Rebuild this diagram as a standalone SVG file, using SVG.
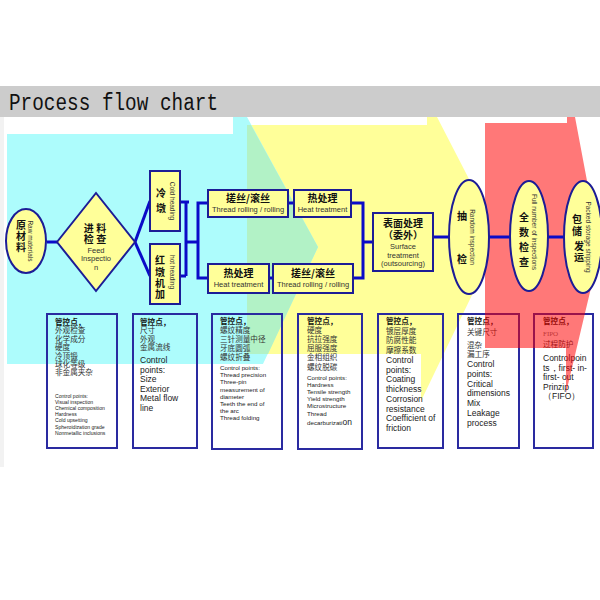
<svg xmlns="http://www.w3.org/2000/svg" width="600" height="600" viewBox="0 0 600 600">
<style>
.nd{fill:#ffff99;stroke:#1c1c96;stroke-width:2}
.zh{font-family:"Noto Sans CJK SC",sans-serif;font-weight:bold;font-size:10px;fill:#111;text-anchor:middle}
.ne{font-family:"Liberation Sans",Arial,sans-serif;font-size:7.5px;fill:#333;text-anchor:middle}
.rot{font-family:"Liberation Sans",Arial,sans-serif;font-size:6.5px;fill:#333;text-anchor:middle}
.ln{stroke:#0a0ac8;stroke-width:3;fill:none}
.bx{fill:none;stroke:#2a2aa0;stroke-width:2}
.c8{font-family:"Noto Sans CJK SC",sans-serif;font-size:7.6px;fill:#333}
.hd{font-weight:bold;fill:#111}
.e8{font-family:"Liberation Sans",Arial,sans-serif;font-size:8.5px;fill:#222}
.e6{font-family:"Liberation Sans",Arial,sans-serif;font-size:6.2px;fill:#222}
.e5{font-family:"Liberation Sans",Arial,sans-serif;font-size:5.1px;fill:#222}
</style>
<rect width="600" height="600" fill="#ffffff"/>
<g id="background">
<rect x="0" y="86" width="600" height="31" fill="#cccccc"/>
<rect x="0" y="117" width="4" height="350" fill="#f2f2f2"/>
<polygon points="247,125 427,125 427,117 437,117 485,210 485,268 421,401 421,354 247,354" fill="#ffff99"/>
<polygon points="7,134 233,134 233,117 247,117 318,247 263,364 7,364" fill="#adfcfc"/>
<polygon points="247,125 251,125 318,247 268,354 247,354" fill="#b2f2c6"/>
<text x="9" y="110" font-family="Liberation Mono, monospace" font-size="23" textLength="209" lengthAdjust="spacingAndGlyphs" fill="#111">Process flow chart</text>
</g>
<g id="control-boxes">
<g id="box1">
<rect class="bx" x="47" y="314" width="70" height="134"/>
<text class="c8" x="55" y="325"><tspan class="hd">管控点，</tspan><tspan x="55" dy="8.4">外观检查</tspan><tspan x="55" dy="8.4">化学成分</tspan><tspan x="55" dy="8.4">硬度</tspan><tspan x="55" dy="8.4">冷顶锻</tspan><tspan x="55" dy="8.4">球化等级</tspan><tspan x="55" dy="8.4">非金属夹杂</tspan></text>
<text class="e5" x="55" y="398"><tspan>Control points:</tspan><tspan x="55" dy="6.1">Visual inspection</tspan><tspan x="55" dy="6.1">Chemical composition</tspan><tspan x="55" dy="6.1">Hardness</tspan><tspan x="55" dy="6.1">Cold upsetting</tspan><tspan x="55" dy="6.1">Spheroidization grade</tspan><tspan x="55" dy="6.1">Nonmetallic inclusions</tspan></text>
</g>
<g id="box2">
<rect class="bx" x="133" y="314" width="64" height="134"/>
<text class="c8" x="140" y="325"><tspan class="hd">管控点，</tspan><tspan x="140" dy="8.4">尺寸</tspan><tspan x="140" dy="8.4">外观</tspan><tspan x="140" dy="8.4">金属流线</tspan></text>
<text class="e8" x="140" y="363"><tspan>Control</tspan><tspan x="140" dy="9.6">points:</tspan><tspan x="140" dy="9.6">Size</tspan><tspan x="140" dy="9.6">Exterior</tspan><tspan x="140" dy="9.6">Metal flow</tspan><tspan x="140" dy="9.6">line</tspan></text>
</g>
<g id="box3">
<rect class="bx" x="212" y="314" width="70" height="135"/>
<text class="c8" x="220" y="324"><tspan class="hd">管控点，</tspan><tspan x="220" dy="9">螺纹精度</tspan><tspan x="220" dy="9">三针测量中径</tspan><tspan x="220" dy="9">牙底圆弧</tspan><tspan x="220" dy="9">螺纹折叠</tspan></text>
<text class="e6" x="220" y="370"><tspan>Control points:</tspan><tspan x="220" dy="7.2">Thread precision</tspan><tspan x="220" dy="7.2">Three-pin</tspan><tspan x="220" dy="7.2">measurement of</tspan><tspan x="220" dy="7.2">diameter</tspan><tspan x="220" dy="7.2">Teeth the end of</tspan><tspan x="220" dy="7.2">the arc</tspan><tspan x="220" dy="7.2">Thread folding</tspan></text>
</g>
<g id="box4">
<rect class="bx" x="298" y="314" width="64" height="135"/>
<text class="c8" x="307" y="324"><tspan class="hd">管控点，</tspan><tspan x="307" dy="9.1">硬度</tspan><tspan x="307" dy="9.1">抗拉强度</tspan><tspan x="307" dy="9.1">屈服强度</tspan><tspan x="307" dy="9.1">金相组织</tspan><tspan x="307" dy="9.1">螺纹脱碳</tspan></text>
<text class="e6" x="307" y="380"><tspan>Control points:</tspan><tspan x="307" dy="7.1">Hardness</tspan><tspan x="307" dy="7.1">Tensile strength</tspan><tspan x="307" dy="7.1">Yield strength</tspan><tspan x="307" dy="7.1">Microstructure</tspan><tspan x="307" dy="7.1">Thread</tspan><tspan x="307" dy="9.2">decarburizati<tspan font-size="8.5">on</tspan></tspan></text>
</g>
<g id="box5">
<rect class="bx" x="378" y="314" width="65" height="134"/>
<text class="c8" x="386" y="324"><tspan class="hd">管控点，</tspan><tspan x="386" dy="9.7">镀层厚度</tspan><tspan x="386" dy="9.7">防腐性能</tspan><tspan x="386" dy="9.7">摩擦系数</tspan></text>
<text class="e8" x="386" y="363"><tspan>Control</tspan><tspan x="386" dy="9.7">points:</tspan><tspan x="386" dy="9.7">Coating</tspan><tspan x="386" dy="9.7">thickness</tspan><tspan x="386" dy="9.7">Corrosion</tspan><tspan x="386" dy="9.7">resistance</tspan><tspan x="386" dy="9.7">Coefficient of</tspan><tspan x="386" dy="9.7">friction</tspan></text>
</g>
<g id="box6">
<rect class="bx" x="458" y="314" width="61" height="134"/>
<text class="c8" x="467" y="324"><tspan class="hd">管控点，</tspan><tspan x="467" dy="11">关键尺寸</tspan><tspan x="467" dy="13">混杂</tspan><tspan x="467" dy="9">漏工序</tspan></text>
<text class="e8" x="467" y="367"><tspan>Control</tspan><tspan x="467" dy="9.75">points:</tspan><tspan x="467" dy="9.75">Critical</tspan><tspan x="467" dy="9.75">dimensions</tspan><tspan x="467" dy="9.75">Mix</tspan><tspan x="467" dy="9.75">Leakage</tspan><tspan x="467" dy="9.75">process</tspan></text>
</g>
<g id="box7">
<rect class="bx" x="534" y="314" width="59" height="134"/>
<text class="c8" x="543" y="324"><tspan class="hd">管控点，</tspan></text>
<text x="543" y="336" font-family="Liberation Serif, serif" font-size="7" fill="#777">FIPO</text>
<text class="c8" x="543" y="347">过程防护</text>
<text class="e8" x="543" y="361"><tspan>Controlpoin</tspan><tspan x="543" dy="9.5">ts，first- in-</tspan><tspan x="543" dy="9.5">first- out</tspan><tspan x="543" dy="9.5">Prinzip</tspan><tspan x="543" dy="9.5">（FIFO）</tspan></text>
</g>
</g>
<polygon id="red-zone" points="485,123 567,123 567,117 575,117 600,250 566,393 566,348 485,348" fill="#ff0000" fill-opacity="0.53"/>
<g id="connectors">
<line class="ln" x1="47" y1="242" x2="57" y2="242"/>
<line class="ln" x1="135" y1="242" x2="150" y2="201"/>
<line class="ln" x1="135" y1="242" x2="150" y2="276"/>
<polyline class="ln" points="180,202 189,202"/>
<line class="ln" x1="186" y1="202" x2="186" y2="276"/>
<line class="ln" x1="180" y1="276" x2="186" y2="276"/>
<line class="ln" x1="186" y1="242" x2="198" y2="242"/>
<polyline class="ln" points="208,203 198,203 198,278 208,278"/>
<line class="ln" x1="288" y1="203" x2="294" y2="203"/>
<line class="ln" x1="269" y1="278" x2="273" y2="278"/>
<polyline class="ln" points="351,203 363,203 363,278 353,278"/>
<line class="ln" x1="363" y1="242" x2="373" y2="242"/>
<line class="ln" x1="433" y1="237" x2="449" y2="237"/>
<line class="ln" x1="489" y1="237" x2="510" y2="237"/>
<line class="ln" x1="548" y1="237" x2="564" y2="237"/>
</g>
<g id="raw-materials">
<ellipse class="nd" cx="26" cy="241" rx="20" ry="32"/>
<text class="zh" font-size="9.5" x="21" y="229">原</text>
<text class="zh" font-size="9.5" x="21" y="240">材</text>
<text class="zh" font-size="9.5" x="21" y="251">料</text>
<text class="rot" font-size="6.3" transform="translate(28,241) rotate(90)">Raw materials</text>
</g>
<g id="feed-inspection">
<polygon class="nd" points="57,242 96,193 135,242 96,291"/>
<text class="zh" font-size="9.5" x="95" y="232">进 料</text>
<text class="zh" font-size="9.5" x="95" y="243">检 查</text>
<text class="ne" font-size="7" x="96" y="253">Feed</text>
<text class="ne" font-size="7" x="96" y="261">Inspectio</text>
<text class="ne" font-size="7" x="96" y="270">n</text>
</g>
<g id="cold-heading">
<rect class="nd" x="150" y="171" width="30" height="60"/>
<text class="zh" x="161" y="197">冷</text>
<text class="zh" x="161" y="212">墩</text>
<text class="rot" transform="translate(170,201) rotate(90)">Cold heading</text>
</g>
<g id="hot-heading">
<rect class="nd" x="150" y="244" width="30" height="60"/>
<text class="zh" font-size="9.5" x="160" y="264">红</text>
<text class="zh" font-size="9.5" x="160" y="276">墩</text>
<text class="zh" font-size="9.5" x="160" y="287">机</text>
<text class="zh" font-size="9.5" x="160" y="298">加</text>
<text class="rot" transform="translate(170,272) rotate(90)">hot heading</text>
</g>
<g id="thread-rolling-1">
<rect class="nd" x="208" y="190" width="80" height="27"/>
<text class="zh" x="248" y="202">搓丝/滚丝</text>
<text class="ne" x="248" y="211.5">Thread rolling / rolling</text>
</g>
<g id="heat-treatment-1">
<rect class="nd" x="294" y="190" width="57" height="27"/>
<text class="zh" x="322.5" y="202">热处理</text>
<text class="ne" x="322.5" y="211.5">Heat treatment</text>
</g>
<g id="heat-treatment-2">
<rect class="nd" x="208" y="264" width="61" height="29"/>
<text class="zh" x="238.5" y="277">热处理</text>
<text class="ne" x="238.5" y="287">Heat treatment</text>
</g>
<g id="thread-rolling-2">
<rect class="nd" x="273" y="264" width="80" height="29"/>
<text class="zh" x="313" y="277">搓丝/滚丝</text>
<text class="ne" x="313" y="287">Thread rolling / rolling</text>
</g>
<g id="surface-treatment">
<rect class="nd" x="373" y="213" width="60" height="58"/>
<text class="zh" font-size="10.5" x="403" y="227">表面处理</text>
<text class="zh" font-size="10.5" x="403" y="239">（委外）</text>
<text class="ne" font-size="7" x="403" y="249">Surface</text>
<text class="ne" font-size="7" x="403" y="257.5">treatment</text>
<text class="ne" font-size="7" x="403" y="266">(outsourcing)</text>
</g>
<g id="random-inspection">
<ellipse class="nd" cx="469" cy="237" rx="20" ry="57"/>
<text class="zh" x="462" y="220">抽</text>
<text class="zh" x="462" y="263">检</text>
<text class="rot" font-size="7.5" transform="translate(470,237) rotate(90)">Random inspection</text>
</g>
<g id="full-inspection">
<ellipse class="nd" cx="529" cy="236" rx="19" ry="55"/>
<text class="zh" x="524" y="221">全</text>
<text class="zh" x="524" y="236">数</text>
<text class="zh" x="524" y="251">检</text>
<text class="zh" x="524" y="266">查</text>
<text class="rot" font-size="6" transform="translate(532,232) rotate(90)">Full number of inspections</text>
</g>
<g id="packing-shipping">
<ellipse class="nd" cx="583" cy="237" rx="19" ry="56"/>
<text class="zh" font-size="9.5" x="577" y="223">包</text>
<text class="zh" font-size="9.5" x="577" y="235">储</text>
<text class="zh" font-size="9.5" x="579" y="250">发</text>
<text class="zh" font-size="9.5" x="579" y="261">运</text>
<text class="rot" font-size="6.8" transform="translate(586,237) rotate(90)">Packed storage shipping</text>
</g>
</svg>
